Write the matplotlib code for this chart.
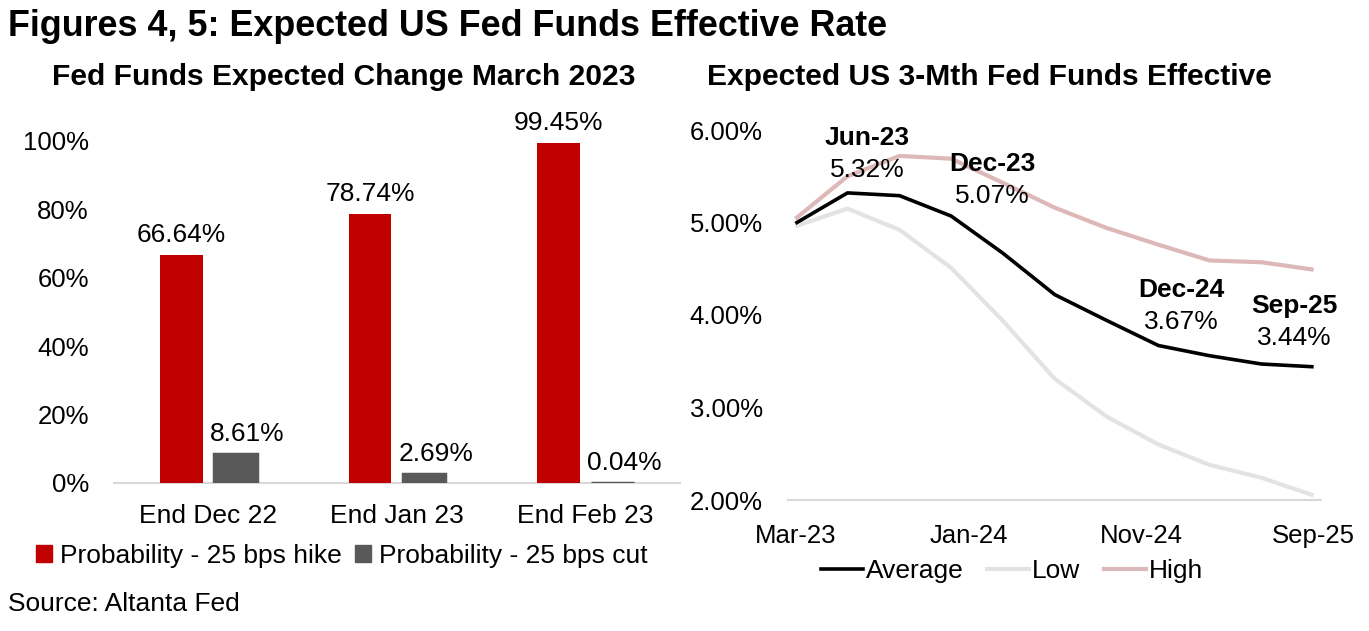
import pandas as pd
import matplotlib
matplotlib.use('Agg')
import matplotlib.pyplot as plt
import matplotlib.dates as mdates
from matplotlib.patches import Patch
from matplotlib.lines import Line2D

plt.rcParams['font.family'] = ['Liberation Sans', 'DejaVu Sans']

# Left panel: probabilities of a 25 bps move at March 2023 meeting
periods = ['End Dec 22', 'End Jan 23', 'End Feb 23']
prob_hike = [66.64, 78.74, 99.45]
prob_cut = [8.61, 2.69, 0.04]

# Right panel: expected 3-month fed funds effective rate (quarterly)
dates = pd.to_datetime(['2023-03-01', '2023-06-01', '2023-09-01', '2023-12-01',
                        '2024-03-01', '2024-06-01', '2024-09-01', '2024-12-01',
                        '2025-03-01', '2025-06-01', '2025-09-01'])
average = [4.99, 5.32, 5.29, 5.07, 4.67, 4.22, 3.94, 3.67, 3.56, 3.47, 3.44]
low = [4.96, 5.15, 4.92, 4.51, 3.94, 3.31, 2.90, 2.60, 2.38, 2.24, 2.05]
high = [5.04, 5.50, 5.72, 5.69, 5.43, 5.16, 4.94, 4.76, 4.59, 4.57, 4.49]
xtick_dates = pd.to_datetime(['2023-03-01', '2024-01-01', '2024-11-01', '2025-09-01'])
# (index, label) of the called-out points
callouts = [(1, 'Jun-23'), (3, 'Dec-23'), (7, 'Dec-24'), (10, 'Sep-25')]

RED = '#C00000'
GREY = '#595959'
AXIS = '#D9D9D9'
FS = 19
TFS = 18.5

fig = plt.figure(figsize=(13.69, 6.31), dpi=100)
W, H = 1369, 631


def px_axes(x0, y0, x1, y1):
    return fig.add_axes([x0 / W, 1 - y1 / H, (x1 - x0) / W, (y1 - y0) / H])


fig.text(8 / W, 1 - 27 / H, 'Figures 4, 5: Expected US Fed Funds Effective Rate',
         fontsize=25.8, fontweight='bold', va='center', ha='left')
fig.text(344 / W, 1 - 77 / H, 'Fed Funds Expected Change March 2023',
         fontsize=21.6, fontweight='bold', va='center', ha='center')
fig.text(989 / W, 1 - 77 / H, 'Expected US 3-Mth Fed Funds Effective',
         fontsize=21.6, fontweight='bold', va='center', ha='center')

# ---- left: bar chart
ax1 = px_axes(114, 141, 680, 483)
x = list(range(len(periods)))
bw = 0.225
off = 0.143
ax1.bar([i - off for i in x], prob_hike, width=bw, color=RED)
ax1.bar([i + off for i in x], prob_cut, width=bw, color=GREY,
        edgecolor=GREY, linewidth=2.5)
for i, v in enumerate(prob_hike):
    ax1.annotate(f'{v:.2f}%', (i - off, v), xytext=(0, 8), textcoords='offset pixels',
                 ha='center', va='bottom', fontsize=FS)
for i, v in enumerate(prob_cut):
    ax1.annotate(f'{v:.2f}%', (i + off, v), xytext=(12, 8), textcoords='offset pixels',
                 ha='center', va='bottom', fontsize=FS)
ax1.set_xlim(-0.5, 2.5)
ax1.set_ylim(0, 100)
ax1.set_yticks(range(0, 101, 20))
ax1.set_yticklabels([f'{t}%' for t in range(0, 101, 20)], fontsize=TFS)
ax1.set_xticks(x)
ax1.set_xticklabels(periods, fontsize=FS)
ax1.tick_params(length=0)
ax1.tick_params(axis='x', pad=15)
ax1.tick_params(axis='y', pad=18)
for s in ['top', 'right', 'left']:
    ax1.spines[s].set_visible(False)
ax1.spines['bottom'].set_color(AXIS)
ax1.spines['bottom'].set_linewidth(1.5)
ax1.spines['bottom'].set_zorder(0.5)

ax1.legend(handles=[Patch(color=RED, label='Probability - 25 bps hike'),
                    Patch(color=GREY, label='Probability - 25 bps cut')],
           loc='center', bbox_to_anchor=(342 / W, 1 - 556 / H), bbox_transform=fig.transFigure,
           ncol=2, frameon=False, fontsize=FS, handlelength=0.6, handleheight=0.6,
           handletextpad=0.3, columnspacing=0.5, borderaxespad=0)

fig.text(8 / W, 1 - 604 / H, 'Source: Altanta Fed', fontsize=FS, va='center', ha='left')

# ---- right: line chart
ax2 = px_axes(788, 130, 1321, 500)
ax2.plot(dates, low, color='#E3E3E3', lw=3, label='Low', solid_capstyle='butt')
ax2.plot(dates, high, color='#DDB8B8', lw=3, label='High', solid_capstyle='butt')
ax2.plot(dates, average, color='black', lw=2.6, label='Average', solid_capstyle='butt')

label_offsets = {1: (20, 23), 3: (41, 20), 7: (23, 24), 10: (-19, 29)}
for idx, name in callouts:
    dx, dy = label_offsets[idx]
    ax2.annotate(f'{average[idx]:.2f}%', (dates[idx], average[idx]), xytext=(dx, dy),
                 textcoords='offset pixels', ha='center', va='center', fontsize=FS)
    ax2.annotate(name, (dates[idx], average[idx]), xytext=(dx, dy + 32),
                 textcoords='offset pixels', ha='center', va='center', fontsize=FS,
                 fontweight='bold')

pad = pd.Timedelta(days=13)
ax2.set_xlim(dates[0] - pad, dates[-1] + pad)
ax2.set_ylim(2, 6)
ax2.set_yticks([2, 3, 4, 5, 6])
ax2.set_yticklabels([f'{t:.2f}%' for t in [2, 3, 4, 5, 6]], fontsize=TFS)
ax2.set_xticks(xtick_dates)
ax2.xaxis.set_major_formatter(mdates.DateFormatter('%b-%y'))
for lab in ax2.get_xticklabels():
    lab.set_fontsize(TFS)
ax2.tick_params(length=0)
ax2.tick_params(axis='x', pad=17)
ax2.tick_params(axis='y', pad=18)
for s in ['top', 'right', 'left']:
    ax2.spines[s].set_visible(False)
ax2.spines['bottom'].set_color(AXIS)
ax2.spines['bottom'].set_linewidth(1.5)

ax2.legend(handles=[Line2D([], [], color='black', lw=2.6, label='Average'),
                    Line2D([], [], color='#E3E3E3', lw=3, label='Low'),
                    Line2D([], [], color='#DDB8B8', lw=3, label='High')],
           loc='center', bbox_to_anchor=(1012 / W, 1 - 571 / H), bbox_transform=fig.transFigure,
           ncol=3, frameon=False, fontsize=FS, handlelength=1.6,
           handletextpad=0.1, columnspacing=0.9, borderaxespad=0)

fig.savefig('out.png', dpi=100)
